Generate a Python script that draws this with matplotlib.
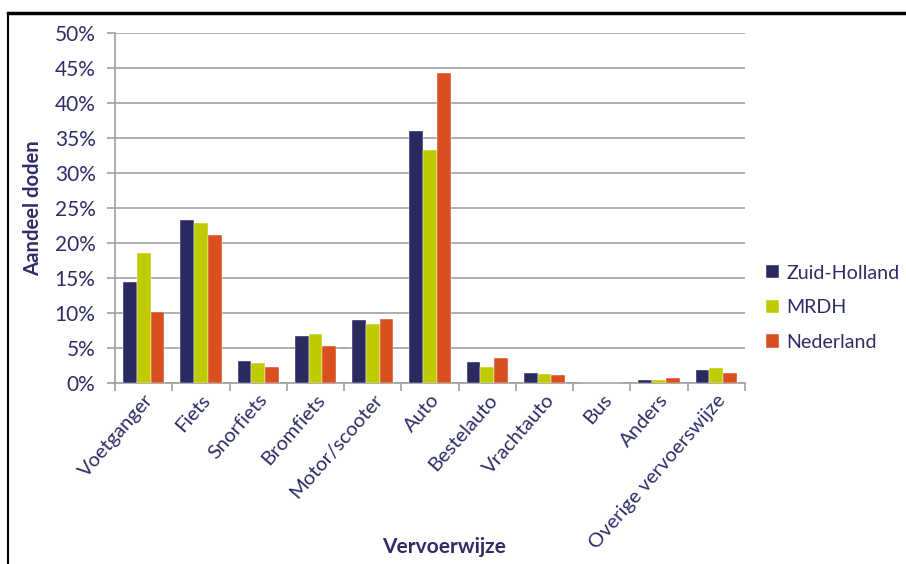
import numpy as np
import matplotlib.pyplot as plt
from matplotlib.lines import Line2D
from matplotlib.ticker import FixedLocator, PercentFormatter

categories = ['Voetganger', 'Fiets', 'Snorfiets', 'Bromfiets', 'Motor/scooter', 'Auto',
              'Bestelauto', 'Vrachtauto', 'Bus', 'Anders', 'Overige vervoerswijze']
zuid_holland = [14.5, 23.3, 3.2, 6.7, 9.0, 36.0, 3.0, 1.4, 0.05, 0.45, 1.85]
mrdh = [18.6, 22.8, 2.9, 7.0, 8.4, 33.3, 2.3, 1.3, 0.05, 0.45, 2.15]
nederland = [10.2, 21.2, 2.3, 5.3, 9.1, 44.3, 3.6, 1.1, 0.05, 0.7, 1.5]

series = [('Zuid-Holland', zuid_holland, '#2a2960'),
          ('MRDH', mrdh, '#bfca00'),
          ('Nederland', nederland, '#d94f20')]

text_color = '#2e2d66'
axis_color = '#a0a0a0'
plt.rcParams['font.family'] = ['Lato', 'DejaVu Sans']

fig = plt.figure(figsize=(9.06, 5.64), dpi=100)
ax = fig.add_axes([115 / 906, 1 - 383 / 564, (745 - 115) / 906, (383 - 33) / 564])

x = np.arange(len(categories))
w = 0.24
for i, (name, vals, col) in enumerate(series):
    ax.bar(x + (i - 1) * w, vals, width=w, color=col, label=name, zorder=3,
           edgecolor='white', linewidth=0.3)

ax.set_xlim(-0.5, len(categories) - 0.5)
ax.set_ylim(0, 50)
ax.set_yticks(np.arange(0, 51, 5))
ax.yaxis.set_major_formatter(PercentFormatter(decimals=0))
ax.yaxis.grid(True, color=axis_color, linewidth=1.2, zorder=0)

ax.set_xticks(x)
ax.set_xticklabels(categories, rotation=49, ha='right', rotation_mode='anchor',
                   fontsize=14.5, color=text_color)
ax.tick_params(axis='x', length=0, pad=6)
ax.xaxis.set_minor_locator(FixedLocator(np.arange(-0.5, len(categories), 1)))
ax.tick_params(axis='x', which='minor', length=6, color=axis_color, width=1.2)
ax.tick_params(axis='y', length=6, color=axis_color, width=1.2, labelsize=15,
               labelcolor=text_color, pad=8)

for side in ['top', 'right']:
    ax.spines[side].set_visible(False)
for side in ['left', 'bottom']:
    ax.spines[side].set_color(axis_color)
    ax.spines[side].set_linewidth(1.2)

ax.set_ylabel('Aandeel doden', fontsize=14.6, fontweight='bold', color=text_color, labelpad=8)
ax.set_xlabel('Vervoerwijze', fontsize=15, fontweight='bold', color=text_color)
ax.xaxis.set_label_coords(0.523, -0.44)

leg = ax.legend(loc='center left', bbox_to_anchor=(1.005, 0.215), frameon=False,
                fontsize=14.1, handlelength=0.65, handleheight=0.65, handletextpad=0.4,
                labelspacing=0.9)
for t in leg.get_texts():
    t.set_color(text_color)

# border lines of the original frame
fig.add_artist(Line2D([8 / 906, 8 / 906], [0, 1 - 13 / 564], color='black', linewidth=1.5,
                      transform=fig.transFigure))
fig.add_artist(Line2D([8 / 906, 1], [1 - 13 / 564, 1 - 13 / 564], color='black', linewidth=2.5,
                      transform=fig.transFigure))

fig.savefig('out.png', dpi=100)
